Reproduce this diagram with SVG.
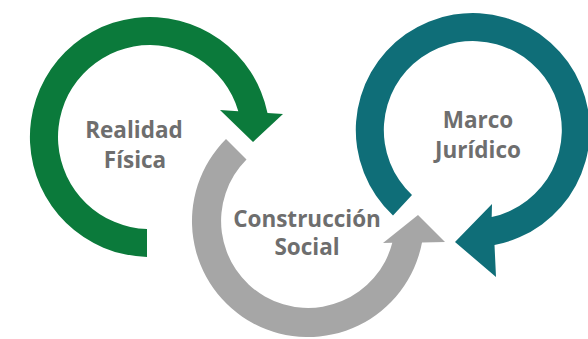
<svg xmlns="http://www.w3.org/2000/svg" width="588" height="339" viewBox="0 0 588 339">
<style>
.lbl{font-family:"Open Sans","Liberation Sans",sans-serif;font-weight:bold;font-size:22.5px;fill:#6e6e6e;text-anchor:middle}
.green{fill:#0b7a3b}
.gray{fill:#a6a6a6}
.teal{fill:#0f6e78}
</style>
<rect width="588" height="339" fill="#ffffff"/>
<g id="connectors">
<path id="arrow-realidad" class="green" d="M147 257 A120 120 0 1 1 267.5 113.1 L283 114 L253 142 L220 110 L238.3 111.2 A92 92 0 1 0 147 229 Z"/>
<path id="arrow-construccion" class="gray" d="M226 139 A116 116 0 1 0 422 242.4 L445 242 L418 215 L383 243 L392.3 242.8 A87 87 0 1 1 246.5 159.5 Z"/>
<path id="arrow-marco" class="teal" d="M393 215.6 A117 117 0 1 1 494.5 245 L496 277 L455 242 L492 204 L491.7 217 A89 89 0 1 0 412 195 Z"/>
</g>
<g id="node-realidad">
<text class="lbl" x="134" y="138">Realidad</text>
<text class="lbl" x="135" y="168">Física</text>
</g>
<g id="node-construccion">
<text class="lbl" x="307" y="227">Construcción</text>
<text class="lbl" x="307" y="255">Social</text>
</g>
<g id="node-marco">
<text class="lbl" x="478" y="128">Marco</text>
<text class="lbl" x="478" y="158">Jurídico</text>
</g>
</svg>
